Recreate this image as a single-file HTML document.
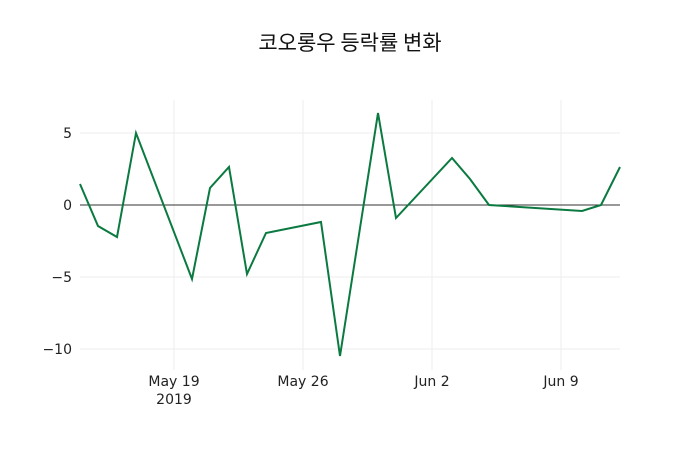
<html><body style="margin:0;background:#fff">
<svg width="700" height="450" xmlns="http://www.w3.org/2000/svg" font-family="DejaVu Sans, sans-serif">
<rect width="700" height="450" fill="#fff"/>
<g stroke="#eee" stroke-width="1">
<line x1="174" y1="100" x2="174" y2="370"/><line x1="303" y1="100" x2="303" y2="370"/>
<line x1="432" y1="100" x2="432" y2="370"/><line x1="561" y1="100" x2="561" y2="370"/>
<line x1="80" y1="133" x2="620" y2="133"/><line x1="80" y1="277" x2="620" y2="277"/><line x1="80" y1="349" x2="620" y2="349"/>
</g>
<line x1="80" y1="205" x2="620" y2="205" stroke="#333" stroke-width="1"/>
<polyline fill="none" stroke="#0a7a40" stroke-width="2" points="80,184 98,226 117,237 136,133 192,279 210,188 229,167 247,274 266,233 321,222 340,356 378,113 396,218 452,158 470,179 489,205 582,211 601,205 620,167"/>
<g font-size="14" fill="#222" text-anchor="end">
<text x="72" y="138">5</text><text x="72" y="210">0</text><text x="72" y="282">−5</text><text x="72" y="354">−10</text>
</g>
<g font-size="14" fill="#222" text-anchor="middle">
<text x="174" y="386">May 19</text><text x="174" y="404">2019</text>
<text x="303" y="386">May 26</text><text x="432" y="386">Jun 2</text><text x="561" y="386">Jun 9</text>
</g>
<text x="350" y="50" font-size="21" fill="#111" text-anchor="middle" font-family="Noto Sans CJK KR, sans-serif">코오롱우 등락률 변화</text>
</svg>
</body></html>
